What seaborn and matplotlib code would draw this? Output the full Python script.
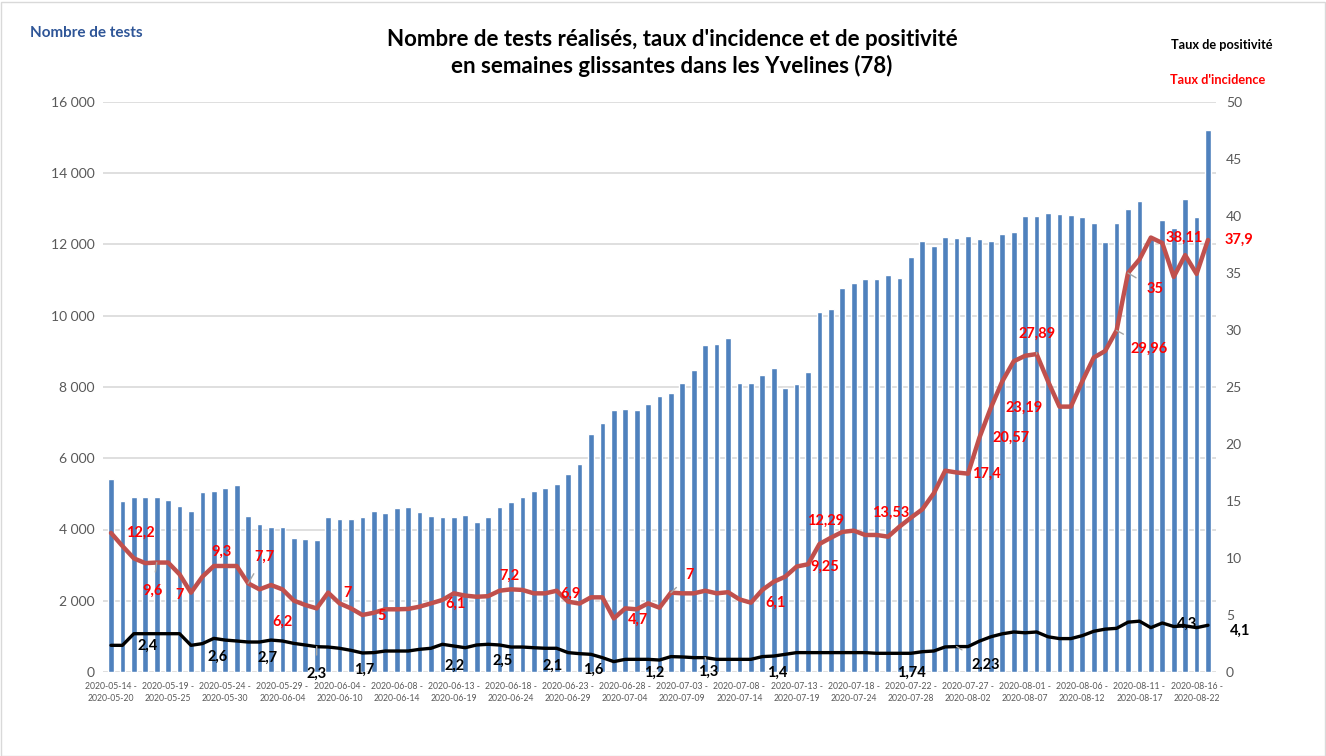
import matplotlib
matplotlib.use("Agg")
import matplotlib.pyplot as plt
import seaborn as sns
import numpy as np
import pandas as pd
from matplotlib.patches import Rectangle

# ---------------- DATA ----------------
tests = [5420, 4810, 4900, 4900, 4900, 4830, 4670, 4510, 5040, 5070,
         5165, 5240, 4390, 4155, 4080, 4080, 3750, 3730, 3715, 4340,
         4300, 4300, 4340, 4530, 4460, 4600, 4620, 4500, 4380, 4340,
         4360, 4400, 4220, 4360, 4620, 4760, 4900, 5080, 5175, 5280,
         5560, 5840, 6670, 7000, 7350, 7380, 7350, 7510, 7750, 7840,
         8120, 8470, 9180, 9200, 9385, 8100, 8100, 8340, 8540, 7960,
         8075, 8410, 10105, 10200, 10780, 10920, 11040, 11040, 11150, 11060,
         11650, 12090, 11950, 12200, 12180, 12230, 12155, 12090, 12295, 12340,
         12790, 12810, 12875, 12845, 12830, 12765, 12595, 12060, 12595, 13000,
         13210, 12195, 12690, 12450, 13275, 12780, 15210]

incidence = [12.2, 11.05, 9.97, 9.55, 9.6, 9.6, 8.57, 6.96, 8.36, 9.3,
             9.3, 9.3, 7.78, 7.25, 7.63, 7.25, 6.26, 5.88, 5.58, 6.96,
             6.02, 5.58, 5.0, 5.2, 5.5, 5.5, 5.53, 5.73, 6.02, 6.32,
             6.9, 6.7, 6.6, 6.65, 7.13, 7.25, 7.2, 6.9, 6.9, 7.13,
             6.17, 6.0, 6.55, 6.55, 4.7, 5.58, 5.5, 6.02, 5.64, 6.96,
             6.9, 6.9, 7.13, 6.9, 7.0, 6.37, 6.08, 7.2, 7.92, 8.36,
             9.25, 9.45, 11.23, 11.78, 12.29, 12.4, 12.02, 12.02, 11.87, 12.75,
             13.53, 14.27, 15.67, 17.66, 17.5, 17.4, 20.57, 23.19, 25.5, 27.26,
             27.74, 27.89, 25.5, 23.28, 23.28, 25.5, 27.58, 28.16, 29.96, 35.0,
             36.19, 38.11, 37.63, 34.66, 36.57, 34.92, 37.9]

positivity = [2.34, 2.34, 3.36, 3.36, 3.36, 3.36, 3.36, 2.34, 2.49, 2.95,
              2.8, 2.72, 2.63, 2.63, 2.8, 2.72, 2.51, 2.37, 2.22, 2.19,
              2.08, 1.9, 1.67, 1.7, 1.84, 1.84, 1.84, 1.99, 2.08, 2.43,
              2.28, 2.13, 2.37, 2.43, 2.37, 2.19, 2.19, 2.13, 2.08, 2.08,
              1.7, 1.61, 1.55, 1.26, 0.91, 1.11, 1.11, 1.11, 1.05, 1.35,
              1.32, 1.26, 1.26, 1.11, 1.11, 1.11, 1.11, 1.35, 1.4, 1.55,
              1.7, 1.7, 1.7, 1.7, 1.7, 1.7, 1.7, 1.64, 1.64, 1.64,
              1.64, 1.78, 1.84, 2.2, 2.23, 2.23, 2.71, 3.09, 3.35, 3.51,
              3.44, 3.51, 3.09, 2.93, 2.93, 3.19, 3.57, 3.76, 3.83, 4.37,
              4.46, 3.89, 4.3, 3.99, 4.05, 3.89, 4.1]

tick_labels = ["2020-05-14 -\n2020-05-20", "2020-05-19 -\n2020-05-25", "2020-05-24 -\n2020-05-30",
               "2020-05-29 -\n2020-06-04", "2020-06-04 -\n2020-06-10", "2020-06-08 -\n2020-06-14",
               "2020-06-13 -\n2020-06-19", "2020-06-18 -\n2020-06-24", "2020-06-23 -\n2020-06-29",
               "2020-06-28 -\n2020-07-04", "2020-07-03 -\n2020-07-09", "2020-07-08 -\n2020-07-14",
               "2020-07-13 -\n2020-07-19", "2020-07-18 -\n2020-07-24", "2020-07-22 -\n2020-07-28",
               "2020-07-27 -\n2020-08-02", "2020-08-01 -\n2020-08-07", "2020-08-06 -\n2020-08-12",
               "2020-08-11 -\n2020-08-17", "2020-08-16 -\n2020-08-22"]

left_ticks = [0, 2000, 4000, 6000, 8000, 10000, 12000, 14000, 16000]
right_ticks = [0, 5, 10, 15, 20, 25, 30, 35, 40, 45, 50]

incid_label_idx = [0, 4, 7, 9, 12, 16, 19, 23, 30, 35, 40, 44, 49, 56, 60, 64, 70,
                   75, 76, 77, 81, 88, 89, 91, 96]
incid_label_txt = ["12,2", "9,6", "7", "9,3", "7,7", "6,2", "7", "5", "6,1", "7,2", "6,9",
                   "4,7", "7", "6,1", "9,25", "12,29", "13,53", "17,4", "20,57", "23,19",
                   "27,89", "29,96", "35", "38,11", "37,9"]
pos_label_idx = [3, 9, 14, 18, 22, 30, 34, 39, 42, 48, 52, 58, 70, 74, 94, 96]
pos_label_txt = ["2,4", "2,6", "2,7", "2,3", "1,7", "2,2", "2,5", "2,1", "1,6", "1,2",
                 "1,3", "1,4", "1,74", "2,23", "4,3", "4,1"]

# ---------------- LAYOUT / STYLE ----------------
# label offsets in pixels (dx right, dy down) and whether a leader line is drawn
incid_offsets = [(29, 0, 0), (-4, 28, 1), (-11, 2, 0), (8, -14, 0), (16, -27, 1), (-11, 21, 0),
                 (19, 0, 0), (8, 3, 0), (2, 10, 0), (-2, -14, 0), (2, -8, 0), (24, 1, 0),
                 (19, -18, 1), (25, 0, 0), (28, 0, 0), (-17, -11, 0), (-20, -5, 0),
                 (18, 0, 0), (32, 0, 0), (33, 0, 0), (0, -20, 1), (33, 18, 1), (27, 16, 1),
                 (33, 0, 0), (31, 0, 0)]
pos_offsets = [(2, 12, 0), (4, 18, 0), (-3, 18, 0), (0, 27, 1), (2, 17, 0), (1, 20, 0),
               (3, 16, 0), (-4, 18, 0), (2, 15, 0), (-5, 13, 0), (3, 14, 1), (3, 17, 0),
               (0, 19, 0), (29, 18, 1), (2, -2, 0), (32, 6, 0)]

sns.set_theme(style="white")
plt.rcParams['font.family'] = ['Lato', 'DejaVu Sans']

W, H = 1326, 756
fig = plt.figure(figsize=(W / 100, H / 100), dpi=100)
ax = fig.add_axes([103 / W, 84 / H, (1216 - 103) / W, (672 - 102) / H])

n = len(tests)
idx = np.arange(n)
df = pd.DataFrame({"idx": idx, "tests": tests, "incidence": incidence, "positivity": positivity})

sns.barplot(data=df, x="idx", y="tests", color="#4F81BD", saturation=1, width=0.5,
            ax=ax, zorder=2)
ax.set_xlim(-0.7, n - 1 + 0.7)
ax.set_ylim(0, 16000)
ax.set_yticks(left_ticks)
ax.set_yticklabels([f"{v:,}".replace(",", " ") for v in left_ticks], fontsize=10, color="#595959")
ax.set_xticks(idx[::5])
ax.set_xticklabels(tick_labels, fontsize=6.2, color="#595959", linespacing=1.4)
ax.yaxis.grid(True, color="#D9D9D9", linewidth=1.2, zorder=0)
ax.set_axisbelow(True)
ax.tick_params(axis="both", length=0, pad=6)
ax.tick_params(axis="x", pad=7)
ax.set_xlabel("")
ax.set_ylabel("")
for s in ax.spines.values():
    s.set_visible(False)

ax2 = ax.twinx()
sns.lineplot(data=df, x="idx", y="incidence", color="#C0504D", linewidth=3.2, ax=ax2,
             zorder=3)
sns.lineplot(data=df, x="idx", y="positivity", color="#000000", linewidth=2.4, ax=ax2,
             zorder=4)
ax2.set_ylim(0, 50)
ax2.set_xlim(-0.7, n - 1 + 0.7)
ax2.set_yticks(right_ticks)
ax2.set_yticklabels([str(v) for v in right_ticks], fontsize=10, color="#595959")
ax2.tick_params(axis="y", length=0, pad=7)
ax2.set_ylabel("")
ax2.set_xlabel("")
for s in ax2.spines.values():
    s.set_visible(False)


def put_labels(idxs, txts, offs, series, color):
    for i, t, (dx, dy, lead) in zip(idxs, txts, offs, strict=True):
        kw = dict(textcoords="offset pixels", ha="center", va="center", fontsize=10.5,
                  fontweight="bold", color=color, annotation_clip=False, zorder=6)
        if lead:
            kw["arrowprops"] = dict(arrowstyle="-", color="#A6A6A6", lw=1,
                                    shrinkA=6, shrinkB=0)
        ax2.annotate(t, xy=(i, series[i]), xytext=(dx, -dy), **kw)


put_labels(incid_label_idx, incid_label_txt, incid_offsets, incidence, "#FF0000")
put_labels(pos_label_idx, pos_label_txt, pos_offsets, positivity, "#000000")

fig.text(672 / W, 1 - 53 / H,
         "Nombre de tests réalisés, taux d'incidence et de positivité\n"
         "en semaines glissantes dans les Yvelines (78)",
         ha="center", va="center", fontsize=16, fontweight="bold", color="#000000",
         linespacing=1.3)
fig.text(30 / W, 1 - 33 / H, "Nombre de tests", ha="left", va="center", fontsize=11,
         fontweight="bold", color="#2E5597")
fig.text(1171 / W, 1 - 45 / H, "Taux de positivité", ha="left", va="center", fontsize=9.2,
         fontweight="bold", color="#000000")
fig.text(1170 / W, 1 - 80 / H, "Taux d'incidence", ha="left", va="center", fontsize=9.2,
         fontweight="bold", color="#FF0000")

fig.patches.append(Rectangle((0.5 / W, 0.5 / H), 1 - 2 / W, 1 - 2 / H, transform=fig.transFigure,
                             fill=False, edgecolor="#D9D9D9", linewidth=1))

fig.savefig("out.png", dpi=100, facecolor="white")
